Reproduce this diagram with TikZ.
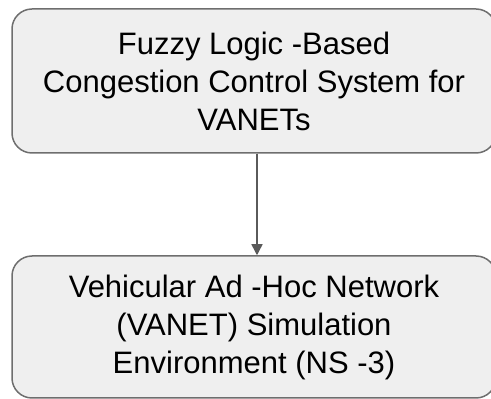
\documentclass[tikz,border=0pt]{standalone}
\usepackage{fontspec}
\setmainfont{Liberation Sans}
\usetikzlibrary{arrows.meta,positioning}
\definecolor{boxfill}{HTML}{EFEFEF}
\definecolor{boxline}{HTML}{6E6E6E}
\definecolor{arrowline}{HTML}{5A5A5A}

\begin{document}
\begin{tikzpicture}[
    x=1pt, y=1pt,
    block/.style={rectangle, rounded corners=20pt, draw=boxline, line width=1.5pt, fill=boxfill,
      minimum width=484pt, inner sep=0pt, align=center, font=\fontsize{31}{38}\selectfont},
    arrow/.style={-{Triangle[length=11pt,width=11pt]}, draw=arrowline, fill=arrowline, line width=1.5pt}
  ]
    \useasboundingbox (0,0) rectangle (491,399);
    \clip (0,0) rectangle (491,399);
    \node[block, minimum height=144pt] (fuzzy) at (254,318) {Fuzzy Logic -Based\\Congestion Control System for\\VANETs};
    \node[block, minimum height=142pt] (vanet) at (254,72) {Vehicular Ad -Hoc Network\\(VANET) Simulation\\Environment (NS -3)};

    \draw[arrow] ([xshift=3pt]fuzzy.south) -- ([xshift=3pt]vanet.north);
  \end{tikzpicture}
\end{document}
